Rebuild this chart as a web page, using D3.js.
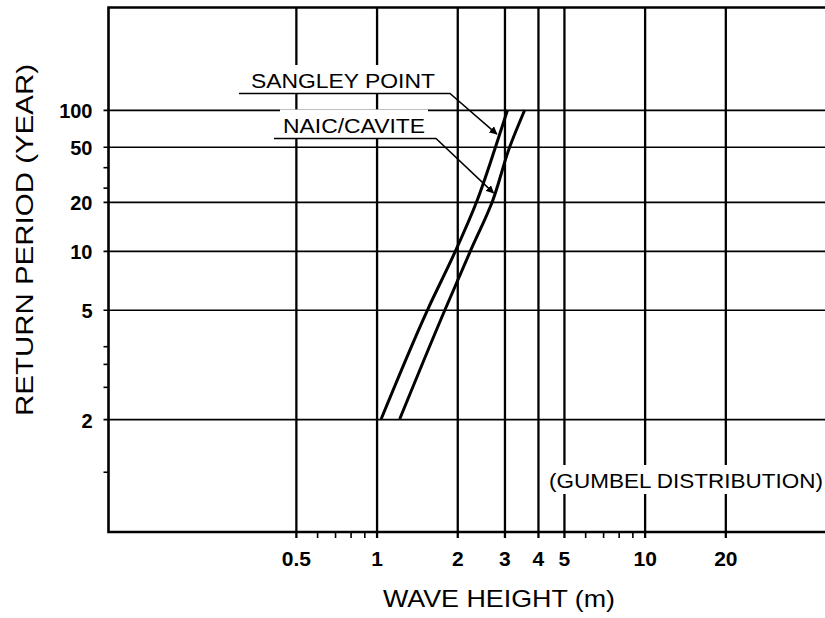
<!DOCTYPE html>
<html>
<head>
<meta charset="utf-8">
<script src="https://cdn.jsdelivr.net/npm/d3@7"></script>
<style>
  body { margin: 0; background: #fff; }
  svg { display: block; font-family: "Liberation Sans", Arial, sans-serif; }
</style>
</head>
<body>
<div id="chart"></div>
<script>
// chart values
var returnPeriods = [2, 5, 10, 20, 50, 100]; // years, y gridlines
var sangleyHeights = [1.04, 1.55, 1.97, 2.36, 2.78, 3.08]; // m
var naicHeights = [1.22, 1.80, 2.24, 2.70, 3.14, 3.57]; // m
var xMajorTicks = [0.5, 1, 2, 3, 4, 5, 10, 20];
var xMinorTicks = [0.6, 0.7, 0.8, 0.9, 6, 7, 8, 9];
var yMinorTicks = [1.5, 2.5, 3, 3.5, 25, 35];

var svgWidth = 825;
var svgHeight = 618;

var chartMargin = { top: 7.5, right: -7, bottom: 86, left: 108.5 }; // plot runs past the right edge

var chartWidth = svgWidth - chartMargin.left - chartMargin.right;
var chartHeight = svgHeight - chartMargin.top - chartMargin.bottom;

var svg = d3.select("#chart")
    .append("svg")
    .attr("width", svgWidth)
    .attr("height", svgHeight);

svg.append("rect").attr("width", svgWidth).attr("height", svgHeight).attr("fill", "#fff");

var chartGroup = svg.append("g")
    .attr("transform", `translate(${chartMargin.left}, ${chartMargin.top})`);

// log wave height, return period on a stretched log scale
var xScale = d3.scaleLog().domain([0.1, 50]).range([0, chartWidth]);
var yScale = d3.scalePow().exponent(0.4)
    .domain([Math.log(1.2), Math.log(1000)])
    .range([chartHeight, 0]);
function yPos(t) { return yScale(Math.log(t)); }

// horizontal gridlines + y labels
var yAxis = chartGroup.append("g")
    .attr("transform", `translate(${chartWidth}, 0)`)
    .call(d3.axisLeft(yScale)
        .tickValues(returnPeriods.map(Math.log))
        .tickFormat(d => Math.round(Math.exp(d)))
        .tickSize(chartWidth + 5)
        .tickPadding(11));
yAxis.select(".domain").remove();
yAxis.selectAll("line").attr("stroke", "#000").attr("stroke-width", 1.7);
yAxis.selectAll("text")
    .attr("fill", "#000")
    .attr("font-size", 20)
    .attr("font-weight", "bold")
    .attr("font-family", "Liberation Sans, Arial, sans-serif")
    .attr("dy", "0.4em");

// vertical gridlines + x labels
var xAxis = chartGroup.append("g")
    .call(d3.axisBottom(xScale)
        .tickValues(xMajorTicks)
        .tickFormat(d3.format(""))
        .tickSize(chartHeight + 6)
        .tickPadding(13));
xAxis.select(".domain").remove();
xAxis.selectAll("line").attr("stroke", "#000").attr("stroke-width", 2.3);
xAxis.selectAll("text")
    .attr("fill", "#000")
    .attr("font-size", 21)
    .attr("font-weight", "bold")
    .attr("font-family", "Liberation Sans, Arial, sans-serif");

// minor ticks
var xMinor = chartGroup.append("g")
    .attr("transform", `translate(0, ${chartHeight})`)
    .call(d3.axisBottom(xScale).tickValues(xMinorTicks).tickFormat("").tickSize(6));
xMinor.select(".domain").remove();
xMinor.selectAll("line").attr("stroke", "#000").attr("stroke-width", 1.6);

var yMinor = chartGroup.append("g")
    .call(d3.axisLeft(yScale).tickValues(yMinorTicks.map(Math.log)).tickFormat("").tickSize(5));
yMinor.select(".domain").remove();
yMinor.selectAll("line").attr("stroke", "#000").attr("stroke-width", 1.6);

// frame (right side is off the page)
chartGroup.append("path")
    .attr("d", `M${chartWidth + 10},0 H0 V${chartHeight} H${chartWidth + 10}`)
    .attr("fill", "none")
    .attr("stroke", "#000")
    .attr("stroke-width", 2.6);

// curves
var lineGen = d3.line()
    .curve(d3.curveMonotoneY)
    .x(d => xScale(d.h))
    .y(d => yPos(d.t));

var series = [
    { name: "SANGLEY POINT", values: returnPeriods.map((t, i) => ({ t: t, h: sangleyHeights[i] })) },
    { name: "NAIC/CAVITE", values: returnPeriods.map((t, i) => ({ t: t, h: naicHeights[i] })) }
];

chartGroup.selectAll(".curve")
    .data(series)
    .enter()
    .append("path")
    .attr("class", "curve")
    .attr("d", d => lineGen(d.values))
    .attr("fill", "none")
    .attr("stroke", "#000")
    .attr("stroke-width", 3);

// arrow marker
svg.append("defs").append("marker")
    .attr("id", "arrow")
    .attr("viewBox", "0 0 10 10")
    .attr("refX", 9).attr("refY", 5)
    .attr("markerWidth", 8).attr("markerHeight", 8)
    .attr("markerUnits", "userSpaceOnUse")
    .attr("orient", "auto")
    .append("path")
    .attr("d", "M0,0 L10,5 L0,10 z")
    .attr("fill", "#000");

// text with a white patch behind it, like the original
function boxedText(g, x, y, str, size, width, anchor) {
    var t = g.append("text")
        .attr("x", x).attr("y", y)
        .attr("font-size", size)
        .attr("text-anchor", anchor || "start")
        .attr("textLength", width)
        .attr("lengthAdjust", "spacingAndGlyphs")
        .attr("fill", "#000")
        .text(str);
    var b = t.node().getBBox();
    g.insert("rect", "text")
        .attr("x", b.x - 3).attr("y", b.y - 4)
        .attr("width", b.width + 6).attr("height", b.height + 6)
        .attr("fill", "#fff");
    return t;
}

var annoGroup = svg.append("g");

// SANGLEY POINT label, underline and leader
var sgG = annoGroup.append("g");
boxedText(sgG, 251, 88, "SANGLEY POINT", 21, 184);
sgG.append("path")
    .attr("d", `M239,93.5 H450 L${chartMargin.left + xScale(2.81)},${chartMargin.top + yPos(63)}`)
    .attr("fill", "none").attr("stroke", "#000").attr("stroke-width", 1.5)
    .attr("marker-end", "url(#arrow)");

// NAIC/CAVITE label
var ncG = annoGroup.append("g");
boxedText(ncG, 283, 132.5, "NAIC/CAVITE", 21, 142);
ncG.append("path")
    .attr("d", `M274,138.5 H436 L${chartMargin.left + xScale(2.73)},${chartMargin.top + yPos(23)}`)
    .attr("fill", "none").attr("stroke", "#000").attr("stroke-width", 1.5)
    .attr("marker-end", "url(#arrow)");

// distribution note
var gmG = annoGroup.append("g");
boxedText(gmG, 549, 488, "(GUMBEL DISTRIBUTION)", 21, 274);

// axis titles
svg.append("text")
    .attr("x", 499).attr("y", 607)
    .attr("text-anchor", "middle")
    .attr("font-size", 24)
    .attr("textLength", 232)
    .attr("lengthAdjust", "spacingAndGlyphs")
    .text("WAVE HEIGHT (m)");

svg.append("text")
    .attr("transform", "translate(33, 240) rotate(-90)")
    .attr("text-anchor", "middle")
    .attr("font-size", 24)
    .attr("textLength", 352)
    .attr("lengthAdjust", "spacingAndGlyphs")
    .text("RETURN PERIOD (YEAR)");
</script>
</body>
</html>
